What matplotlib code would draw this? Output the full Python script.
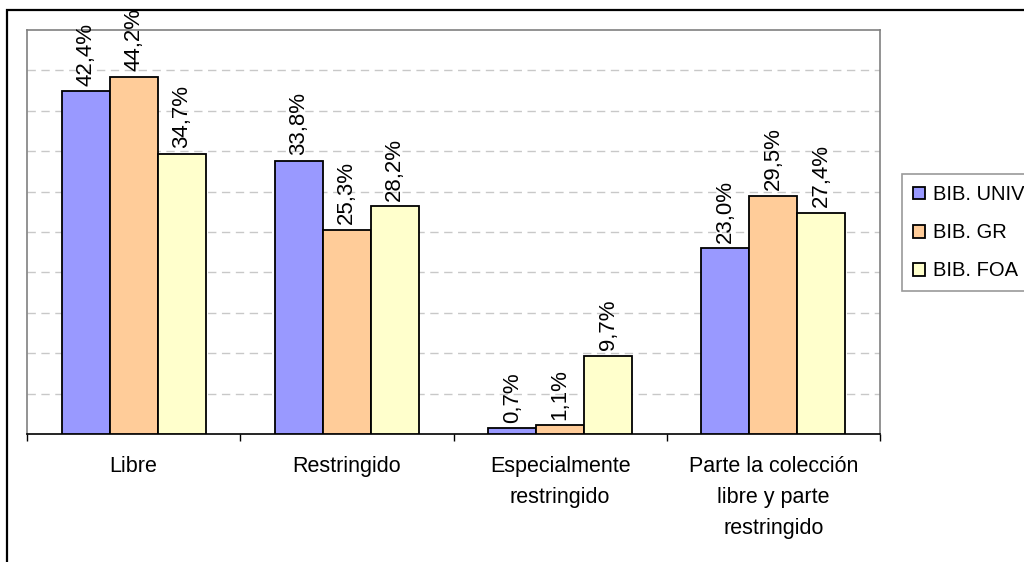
import matplotlib
matplotlib.use("Agg")
import matplotlib.pyplot as plt
import numpy as np
from matplotlib.patches import Rectangle

plt.rcParams["font.family"] = ["Liberation Sans", "DejaVu Sans"]

# ---------------------------------------------------------------------------
# Data
# ---------------------------------------------------------------------------
categories = [
    "Libre",
    "Restringido",
    "Especialmente\nrestringido",
    "Parte la colección\nlibre y parte\nrestringido",
]
series_names = ["BIB. UNIV", "BIB. GR", "BIB. FOA"]
bib_univ = [42.4, 33.8, 0.7, 23.0]
bib_gr = [44.2, 25.3, 1.1, 29.5]
bib_foa = [34.7, 28.2, 9.7, 27.4]
colors = ["#9999FF", "#FFCC99", "#FFFFCC"]

W, H = 1024, 562
fig = plt.figure(figsize=(W / 100, H / 100), dpi=100)
fig.patch.set_facecolor("white")

# outer chart border (Excel chart area)
fig.patches.append(Rectangle((7 / W, -0.1), 1.2, 1 - 10 / H + 0.1,
                             transform=fig.transFigure, fill=False,
                             edgecolor="#000000", linewidth=1.6))

ax = fig.add_axes([27 / W, 1 - 434 / H, (880 - 27) / W, (434 - 30) / H])

x = np.arange(len(categories))
bw = 0.225
for i, (vals, name, col) in enumerate(zip([bib_univ, bib_gr, bib_foa], series_names, colors)):
    pos = x + (i - 1) * bw
    ax.bar(pos, vals, width=bw, color=col, edgecolor="black", linewidth=1.3,
           label=name, zorder=3)
    for p, v in zip(pos, vals):
        ax.annotate(f"{v:.1f}%".replace(".", ","), (p, v), xytext=(0, 4),
                    textcoords="offset points", rotation=90, ha="center",
                    va="bottom", fontsize=16)

ax.set_xlim(-0.5, len(categories) - 0.5)
ax.set_ylim(0, 50)
ax.set_yticks(np.arange(5, 50, 5))
ax.tick_params(axis="y", length=0, labelleft=False)
ax.yaxis.grid(True, color="#C8C8C8", linestyle=(0, (6, 4)), linewidth=1)
ax.set_axisbelow(True)

# ticks at category boundaries, labels at centres
ax.set_xticks(np.arange(-0.5, len(categories), 1))
ax.set_xticklabels([])
ax.set_xticks(x, minor=True)
ax.set_xticklabels(categories, minor=True, fontsize=15.5, linespacing=1.62, va="top")
ax.tick_params(axis="x", which="major", length=5, width=1, color="black", direction="out")
ax.tick_params(axis="x", which="minor", length=0, pad=16)

for s in ["top", "right", "left"]:
    ax.spines[s].set_color("#808080")
    ax.spines[s].set_linewidth(1.2)
ax.spines["bottom"].set_color("black")
ax.spines["bottom"].set_linewidth(1.2)

leg = ax.legend(loc="upper left", bbox_to_anchor=(902 / W, 1 - 174 / H),
                bbox_transform=fig.transFigure, fontsize=14.5, frameon=True,
                fancybox=False, handlelength=0.6, handleheight=0.6,
                handletextpad=0.4, labelspacing=0.95, borderpad=0.55,
                borderaxespad=0)
leg.get_frame().set_edgecolor("#808080")
leg.get_frame().set_linewidth(1.2)

fig.savefig("out.png", dpi=100)
